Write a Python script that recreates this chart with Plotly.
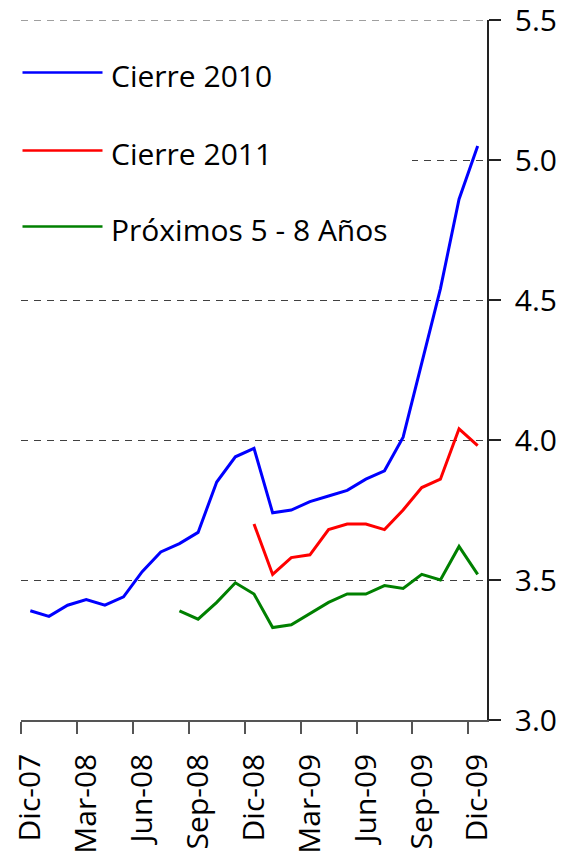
import plotly.graph_objects as go

months = ["Dic-07", "Ene-08", "Feb-08", "Mar-08", "Abr-08", "May-08", "Jun-08", "Jul-08",
          "Ago-08", "Sep-08", "Oct-08", "Nov-08", "Dic-08", "Ene-09", "Feb-09", "Mar-09",
          "Abr-09", "May-09", "Jun-09", "Jul-09", "Ago-09", "Sep-09", "Oct-09", "Nov-09", "Dic-09"]

cierre_2010 = [3.39, 3.37, 3.41, 3.43, 3.41, 3.44, 3.53, 3.60, 3.63, 3.67, 3.85, 3.94, 3.97,
               3.74, 3.75, 3.78, 3.80, 3.82, 3.86, 3.89, 4.01, 4.28, 4.54, 4.86, 5.05]
cierre_2011 = [None] * 12 + [3.70, 3.52, 3.58, 3.59, 3.68, 3.70, 3.70, 3.68, 3.75, 3.83, 3.86, 4.04, 3.98]
proximos = [None] * 8 + [3.39, 3.36, 3.42, 3.49, 3.45, 3.33, 3.34, 3.38, 3.42, 3.45, 3.45,
                         3.48, 3.47, 3.52, 3.50, 3.62, 3.52]

series_names = ["Cierre 2010", "Cierre 2011", "Próximos 5 - 8 Años"]
series_colors = ["#0000FF", "#FF0000", "#008000"]
series_values = [cierre_2010, cierre_2011, proximos]

y_ticks = [3.0, 3.5, 4.0, 4.5, 5.0, 5.5]

xpos = list(range(len(months)))
label_idx = list(range(0, len(months), 3))

FONT = "Open Sans"
GRID = "#404040"
DASH = "7px,6px"

fig = go.Figure()
for name, color, vals in zip(series_names, series_colors, series_values):
    fig.add_trace(go.Scatter(x=xpos, y=vals, mode="lines", name=name,
                             line=dict(color=color, width=3), showlegend=False))

W, H = 562, 859
L, R, T, B = 21, 75, 20, 139
pw, ph = W - L - R, H - T - B

def px(xp):
    return (xp - L) / pw

def py(yp):
    return (H - B - yp) / ph

# top gridline (plotly drops the gridline at the range end)
fig.add_shape(type="line", xref="paper", yref="y", x0=0, x1=1, y0=y_ticks[-1], y1=y_ticks[-1],
              line=dict(color=GRID, width=1, dash=DASH), layer="below")

# white legend background covering the gridlines
fig.add_shape(type="rect", xref="paper", yref="paper",
              x0=px(0), x1=px(412), y0=py(268), y1=py(34),
              fillcolor="white", line=dict(width=0), layer="above")

legend_y = [72.5, 150.5, 226.5]
for name, color, ly in zip(series_names, series_colors, legend_y):
    fig.add_shape(type="line", xref="paper", yref="paper",
                  x0=px(22.5), x1=px(102.5), y0=py(ly), y1=py(ly),
                  line=dict(color=color, width=2.5), layer="above")
    fig.add_annotation(xref="paper", yref="paper", x=px(109), y=py(ly + 3),
                       xanchor="left", yanchor="middle", text=name, showarrow=False,
                       font=dict(family=FONT, size=30, color="black"))

fig.update_layout(
    width=W, height=H,
    margin=dict(l=L, r=R, t=T, b=B),
    paper_bgcolor="white", plot_bgcolor="white",
    font=dict(family=FONT, size=30, color="black"),
    showlegend=False,
)

fig.update_xaxes(
    type="linear", range=[-0.5, len(months) - 0.5],
    tickmode="array", tickvals=label_idx, ticktext=[months[i] for i in label_idx],
    tickangle=-90, ticks="outside", ticklen=12, tickcolor="rgba(0,0,0,0)",
    ticklabelstandoff=8, ticklabeloverflow="allow",
    minor=dict(tickmode="linear", tick0=-0.5, dtick=3, ticks="outside", ticklen=12,
               tickcolor="#555555", tickwidth=1.5, showgrid=False),
    showline=True, linecolor="#555555", linewidth=1.5,
    showgrid=False, zeroline=False, automargin=False,
    tickfont=dict(family=FONT, size=30, color="black"),
)

fig.update_yaxes(
    side="right", range=[3.0, 5.5],
    tickmode="array", tickvals=y_ticks, ticktext=[f"{v:.1f}" for v in y_ticks],
    ticks="outside", ticklen=12, tickcolor="#222222", tickwidth=1.5,
    ticklabelstandoff=8, ticklabeloverflow="allow",
    showline=True, linecolor="#222222", linewidth=1.5,
    showgrid=True, gridcolor=GRID, gridwidth=1, griddash=DASH,
    zeroline=False, automargin=False,
    tickfont=dict(family=FONT, size=30, color="black"),
)

fig.write_html("out.html", config={"displayModeBar": False},
               post_script="document.body.style.margin='0';document.body.style.padding='0';")
